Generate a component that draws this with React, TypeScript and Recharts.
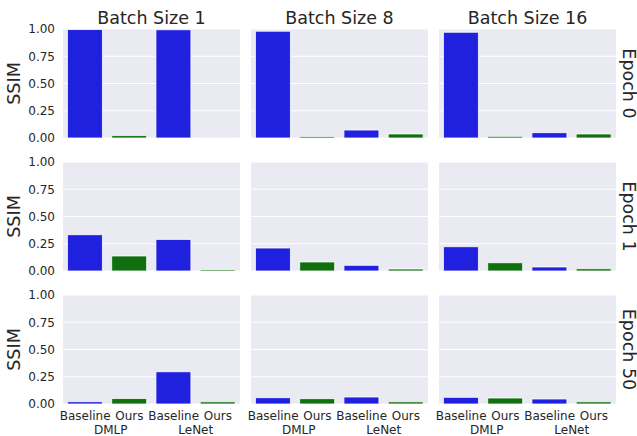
import React from "react";
import { BarChart, Bar, XAxis, YAxis, CartesianGrid, Cell, Label } from "recharts";

const categories = ["Baseline", "Ours", "Baseline", "Ours"];
const groups = ["DMLP", "DMLP", "LeNet", "LeNet"];
const batchTitles = ["Batch Size 1", "Batch Size 8", "Batch Size 16"];
const epochTitles = ["Epoch 0", "Epoch 1", "Epoch 50"];
const yTicks = [0, 0.25, 0.5, 0.75, 1];

// values[row=epoch][col=batch size] -> [Baseline DMLP, Ours DMLP, Baseline LeNet, Ours LeNet]
const epoch0 = [
  [0.995, 0.022, 0.993, 0.002],
  [0.98, 0.013, 0.073, 0.037],
  [0.97, 0.015, 0.049, 0.037],
];
const epoch1 = [
  [0.333, 0.138, 0.29, 0.012],
  [0.211, 0.083, 0.052, 0.018],
  [0.223, 0.076, 0.037, 0.021],
];
const epoch50 = [
  [0.021, 0.05, 0.296, 0.02],
  [0.058, 0.049, 0.064, 0.02],
  [0.061, 0.055, 0.046, 0.02],
];
const allRows = [epoch0, epoch1, epoch50];

const BLUE = "#2020df";
const GREEN = "#107010";
const TEXT = "#262626";
const FONT = "'DejaVu Sans', sans-serif";

const colX = [63, 251, 439];
const rowY = [29, 162, 295];
const PW = 177;
const PH = 109;
const YW = 63;
const XH = 32;
const PAD = 10;

const BottomTick = (props: any) => {
  const { x, y, payload } = props;
  const i = payload.index;
  const band = PW / categories.length;
  const groupOffset = i === 1 ? -band / 2 + 3.5 : -band / 2;
  return (
    <g>
      <text x={x} y={y + 16} textAnchor="middle" fontSize={12} fill={TEXT} fontFamily={FONT}>
        {categories[i]}
      </text>
      {i % 2 === 1 && (
        <text x={x + groupOffset} y={y + 30} textAnchor="middle" fontSize={12} fill={TEXT} fontFamily={FONT}>
          {groups[i]}
        </text>
      )}
    </g>
  );
};

const renderLeftTick = (props: any) => {
  const { x, y, payload, index } = props;
  return (
    <text key={`yt-${index}`} x={x} y={y} dy="0.36em" textAnchor="end" fontSize={12} fill={TEXT} fontFamily={FONT}>
      {Number(payload.value).toFixed(2)}
    </text>
  );
};

const SsimLabel = (props: any) => {
  const vb = props.viewBox || { x: 0, y: PAD, width: YW, height: PH };
  const cy = vb.y + vb.height / 2;
  const cx = vb.x + 20;
  return (
    <text
      transform={`translate(${cx}, ${cy}) rotate(-90)`}
      textAnchor="middle"
      fontSize={17.5}
      fill={TEXT}
      fontFamily={FONT}
    >
      SSIM
    </text>
  );
};

function Panel({ row, col }: { row: number; col: number }) {
  const values = allRows[row][col];
  const data = categories.map((c, i) => ({ name: `${c} ${groups[i]}`, value: values[i] }));
  const showY = col === 0;
  const leftSpace = showY ? YW : PAD;
  const width = leftSpace + PW + PAD;
  const height = PAD + PH + PAD;
  const left = colX[col] - leftSpace;
  const top = rowY[row] - PAD;
  return (
    <div style={{ position: "absolute", left, top }}>
      <BarChart
        width={width}
        height={height}
        data={data}
        margin={{ top: PAD, right: PAD, bottom: PAD, left: showY ? 0 : PAD }}
        barCategoryGap="10%"
      >
        <CartesianGrid fill="#eaeaf2" stroke="#ffffff" strokeWidth={1} vertical={false} horizontalValues={yTicks} />
        <XAxis dataKey="name" hide />
        <YAxis
          hide={!showY}
          width={YW}
          type="number"
          domain={[0, 1]}
          allowDataOverflow
          ticks={yTicks}
          interval={0}
          minTickGap={0}
          axisLine={false}
          tickLine={false}
          tickSize={0}
          tickMargin={8}
          tick={renderLeftTick}
        >
          {showY && <Label content={<SsimLabel />} />}
        </YAxis>
        <Bar dataKey="value" isAnimationActive={false} stroke="#ffffff" strokeWidth={0.8}>
          {data.map((_, i) => (
            <Cell key={i} fill={categories[i] === "Baseline" ? BLUE : GREEN} />
          ))}
        </Bar>
      </BarChart>
    </div>
  );
}

function XLabels({ col }: { col: number }) {
  const data = categories.map((c, i) => ({ name: `${c} ${groups[i]}`, value: 0 }));
  return (
    <div style={{ position: "absolute", left: colX[col] - PAD, top: rowY[2] + PH - 1 }}>
      <BarChart
        width={PW + 2 * PAD}
        height={XH + 1}
        data={data}
        margin={{ top: 0, right: PAD, bottom: 0, left: PAD }}
        barCategoryGap="10%"
      >
        <XAxis
          dataKey="name"
          height={XH}
          axisLine={false}
          tickLine={false}
          tickSize={0}
          tickMargin={0}
          interval={0}
          minTickGap={0}
          tick={<BottomTick />}
        />
        <YAxis hide domain={[0, 1]} />
        <Bar dataKey="value" isAnimationActive={false} fill={BLUE} />
      </BarChart>
    </div>
  );
}

export default function App() {
  return (
    <div
      style={{
        position: "absolute",
        left: 0,
        top: 0,
        width: 637,
        height: 436,
        background: "#ffffff",
        overflow: "hidden",
        fontFamily: FONT,
      }}
    >
      {[0, 1, 2].map((c) => <XLabels key={`x-${c}`} col={c} />)}
      {[0, 1, 2].map((r) => [0, 1, 2].map((c) => <Panel key={`${r}-${c}`} row={r} col={c} />))}
      <svg width={637} height={436} style={{ position: "absolute", left: 0, top: 0, pointerEvents: "none" }}>
        {batchTitles.map((t, c) => (
          <text key={t} x={colX[c] + PW / 2} y={24} textAnchor="middle" fontSize={17.5} fill={TEXT} fontFamily={FONT}>
            {t}
          </text>
        ))}
        {epochTitles.map((t, r) => (
          <text
            key={t}
            transform={`translate(622.5, ${rowY[r] + PH / 2}) rotate(90)`}
            textAnchor="middle"
            fontSize={17.5}
            fill={TEXT}
            fontFamily={FONT}
          >
            {t}
          </text>
        ))}
      </svg>
    </div>
  );
}
